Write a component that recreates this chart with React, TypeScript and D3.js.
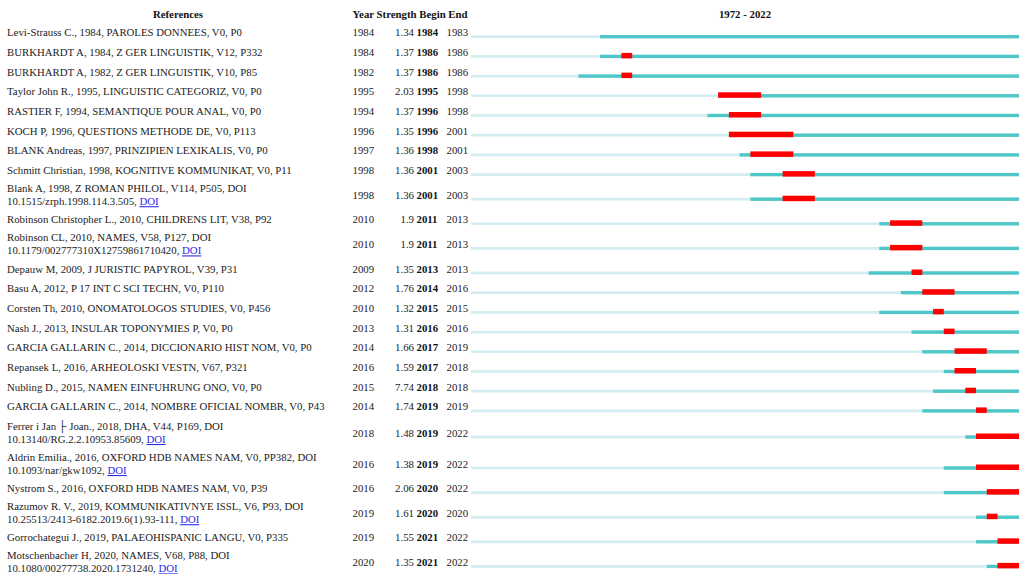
import React from "react";
import * as d3 from "d3";

// references (two-line entries split into lines, DOI link appended on last line)
const references: string[][] = [
  ["Levi-Strauss C., 1984, PAROLES DONNEES, V0, P0"],
  ["BURKHARDT A, 1984, Z GER LINGUISTIK, V12, P332"],
  ["BURKHARDT A, 1982, Z GER LINGUISTIK, V10, P85"],
  ["Taylor John R., 1995, LINGUISTIC CATEGORIZ, V0, P0"],
  ["RASTIER F, 1994, SEMANTIQUE POUR ANAL, V0, P0"],
  ["KOCH P, 1996, QUESTIONS METHODE DE, V0, P113"],
  ["BLANK Andreas, 1997, PRINZIPIEN LEXIKALIS, V0, P0"],
  ["Schmitt Christian, 1998, KOGNITIVE KOMMUNIKAT, V0, P11"],
  ["Blank A, 1998, Z ROMAN PHILOL, V114, P505, DOI", "10.1515/zrph.1998.114.3.505, "],
  ["Robinson Christopher L., 2010, CHILDRENS LIT, V38, P92"],
  ["Robinson CL, 2010, NAMES, V58, P127, DOI", "10.1179/002777310X12759861710420, "],
  ["Depauw M, 2009, J JURISTIC PAPYROL, V39, P31"],
  ["Basu A, 2012, P 17 INT C SCI TECHN, V0, P110"],
  ["Corsten Th, 2010, ONOMATOLOGOS STUDIES, V0, P456"],
  ["Nash J., 2013, INSULAR TOPONYMIES P, V0, P0"],
  ["GARCIA GALLARIN C., 2014, DICCIONARIO HIST NOM, V0, P0"],
  ["Repansek L, 2016, ARHEOLOSKI VESTN, V67, P321"],
  ["Nubling D., 2015, NAMEN EINFUHRUNG ONO, V0, P0"],
  ["GARCIA GALLARIN C., 2014, NOMBRE OFICIAL NOMBR, V0, P43"],
  ["Ferrer i Jan \u251c Joan., 2018, DHA, V44, P169, DOI", "10.13140/RG.2.2.10953.85609, "],
  ["Aldrin Emilia., 2016, OXFORD HDB NAMES NAM, V0, PP382, DOI", "10.1093/nar/gkw1092, "],
  ["Nystrom S., 2016, OXFORD HDB NAMES NAM, V0, P39"],
  ["Razumov R. V., 2019, KOMMUNIKATIVNYE ISSL, V6, P93, DOI", "10.25513/2413-6182.2019.6(1).93-111, "],
  ["Gorrochategui J., 2019, PALAEOHISPANIC LANGU, V0, P335"],
  ["Motschenbacher H, 2020, NAMES, V68, P88, DOI", "10.1080/00277738.2020.1731240, "],
];

const years = [1984, 1984, 1982, 1995, 1994, 1996, 1997, 1998, 1998, 2010, 2010, 2009, 2012, 2010, 2013, 2014, 2016, 2015, 2014, 2018, 2016, 2016, 2019, 2019, 2020];
const strengths = [1.34, 1.37, 1.37, 2.03, 1.37, 1.35, 1.36, 1.36, 1.36, 1.9, 1.9, 1.35, 1.76, 1.32, 1.31, 1.66, 1.59, 7.74, 1.74, 1.48, 1.38, 2.06, 1.61, 1.55, 1.35];
const begins = [1984, 1986, 1986, 1995, 1996, 1996, 1998, 2001, 2001, 2011, 2011, 2013, 2014, 2015, 2016, 2017, 2017, 2018, 2019, 2019, 2019, 2020, 2020, 2021, 2021];
const ends = [1983, 1986, 1986, 1998, 1998, 2001, 2001, 2003, 2003, 2013, 2013, 2013, 2016, 2015, 2016, 2019, 2018, 2018, 2019, 2022, 2022, 2022, 2020, 2022, 2022];

const startYear = 1972;
const endYear = 2022;

const font = "'Liberation Serif', 'Times New Roman', serif";
const fs = 10.8;

const App = () => {
  const width = 1021;
  const height = 574;

  const x = d3.scaleLinear().domain([startYear, endYear + 1]).range([471, 1019]);

  // row heights: two-line rows taller, the odd glyph row a bit more
  const rowH = (i: number) =>
    references[i].length > 1 ? 29.5 + (references[i][0].includes("\u251c") ? 3 : 0) : 19.7;
  const lineY: number[] = [];
  references.forEach((_, i) => {
    lineY.push(i === 0 ? 36.7 : lineY[i - 1] + (rowH(i - 1) + rowH(i)) / 2);
  });

  return (
    <svg
      width={width}
      height={height}
      style={{ position: "absolute", left: 0, top: 0, background: "#fff" }}
      fontFamily={font}
      fontSize={fs}
    >
      <g fontWeight="bold" fill="#111">
        <text x={178} y={18} textAnchor="middle">References</text>
        <text x={352.5} y={18}>Year Strength Begin End</text>
        <text x={x(startYear) + (x(endYear + 1) - x(startYear)) / 2} y={18} textAnchor="middle">
          {startYear} - {endYear}
        </text>
      </g>

      {references.map((lines, i) => {
        const y0 = lineY[i];
        const two = lines.length > 1;
        return (
          <g key={i}>
            {lines.map((ln, j) => (
              <text
                key={j}
                x={7}
                y={two ? y0 - 7 + j * 13 : y0 - 0.5}
                fill="#222"
              >
                {ln}
                {two && j === 1 ? (
                  <tspan fill="#2b2bea" textDecoration="underline">DOI</tspan>
                ) : null}
              </text>
            ))}
            <text x={352.5} y={y0 - 0.5} fill="#222">{years[i]}</text>
            <text x={414} y={y0 - 0.5} fill="#222" textAnchor="end">{String(strengths[i])}</text>
            <text x={416.5} y={y0 - 0.5} fill="#111" fontWeight="bold">{begins[i]}</text>
            <text x={446.5} y={y0 - 0.5} fill="#222">{ends[i]}</text>

            <rect x={x(startYear)} y={y0 - 1.4} width={x(endYear + 1) - x(startYear)} height={2.8} fill="#d4edf0" />
            <rect x={x(years[i])} y={y0 - 1.7} width={x(endYear + 1) - x(years[i])} height={3.4} fill="#4fc7c8" />
            {ends[i] >= begins[i] ? (
              <rect
                x={x(begins[i])}
                y={y0 - 3.5}
                width={x(ends[i] + 1) - x(begins[i])}
                height={5.5}
                fill="#ff0000"
              />
            ) : null}
          </g>
        );
      })}
    </svg>
  );
};

export default App;
